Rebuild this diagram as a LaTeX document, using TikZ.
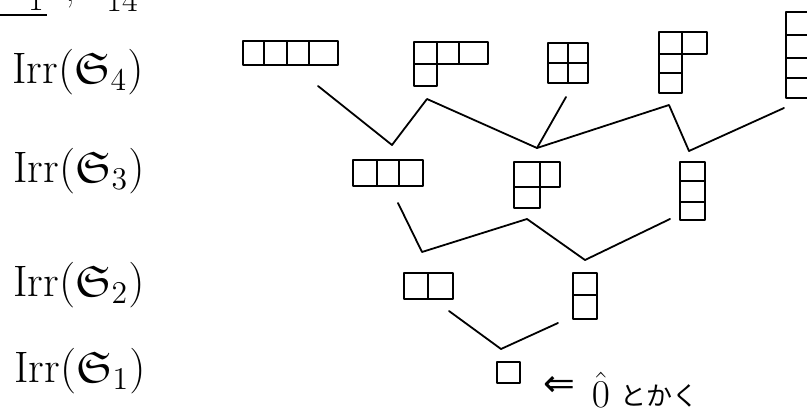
\documentclass[tikz,border=0pt]{standalone}
\usepackage{amssymb}
\usepackage{fontspec}
\newfontfamily\jpfont{Noto Sans CJK JP}
\newfontfamily\symfont{DejaVu Sans}
\begin{document}
\begin{tikzpicture}[x=1pt,y=-1pt,
  cellline/.style={line width=1.6pt,line join=round},
  edge/.style={line width=1.8pt,line join=round,line cap=round},
  lab/.style={inner sep=0pt,anchor=west,font=\fontsize{20}{24}\selectfont,scale=2.2,transform shape},
  hdr/.style={inner sep=0pt,anchor=base,font=\fontsize{20}{24}\selectfont,scale=1.7,transform shape}]
\useasboundingbox (0,0) rectangle (807,412);
% header fragment (cut off at the top)
\draw[line width=1.2pt] (0,15) -- (47,15);
\node[hdr] (hdrone) at (36,11) {1};
\node[hdr] (hdrcomma) at (70,2) {,};
\node[hdr] (hdrnum) at (122,12) {14};
% level labels
\node[lab] (L4) at (12,72) {Irr$(\mathfrak{S}_4)$};
\node[lab] (L3) at (13,171) {Irr$(\mathfrak{S}_3)$};
\node[lab] (L2) at (13,285) {Irr$(\mathfrak{S}_2)$};
\node[lab] (L1) at (14,371) {Irr$(\mathfrak{S}_1)$};
% Young diagrams, level 4
\begin{scope}[cellline]
\draw (243,41) rectangle (338,65); \draw (264,41)--(264,65) (287,41)--(287,65) (309,41)--(309,65);
\draw (414,42) rectangle (488,64); \draw (437,42)--(437,64) (459,42)--(459,64);
\draw (414,64) rectangle (437,86);
\draw (548,43) rectangle (588,83); \draw (568,43)--(568,83) (548,63)--(588,63);
\draw (659,32) rectangle (707,54); \draw (682,32)--(682,54);
\draw (659,54) rectangle (682,93); \draw (659,73)--(682,73);
\draw (786,12) rectangle (810,98); \draw (786,35)--(810,35) (786,58)--(810,58) (786,78)--(810,78);
% level 3
\draw (353,160) rectangle (423,186); \draw (377,160)--(377,186) (399,160)--(399,186);
\draw (514,162) rectangle (560,187); \draw (540,162)--(540,187);
\draw (514,187) rectangle (540,208);
\draw (680,162) rectangle (705,220); \draw (680,181)--(705,181) (680,202)--(705,202);
% level 2
\draw (404,273) rectangle (453,299); \draw (428,273)--(428,299);
\draw (573,273) rectangle (597,319); \draw (573,295)--(597,295);
% level 1
\draw (497,362) rectangle (520,383);
\end{scope}
% connection points
\coordinate (b4) at (318,86);
\coordinate (b31) at (427,99);
\coordinate (b22) at (566,97);
\coordinate (b211) at (669,105);
\coordinate (b1111) at (784,108);
\coordinate (t3) at (392,145);
\coordinate (t21) at (537,148);
\coordinate (t111) at (689,151);
\coordinate (b3) at (398,203);
\coordinate (b21) at (527,219);
\coordinate (b111) at (670,219);
\coordinate (t2) at (422,252);
\coordinate (t11) at (585,260);
\coordinate (b2) at (449,311);
\coordinate (b11) at (558,323);
\coordinate (t1) at (501,349);
% connectors
\draw[edge] (b4) -- (t3) -- (b31) -- (t21) -- (b211) -- (t111) -- (b1111);
\draw[edge] (b22) -- (t21);
\draw[edge] (b3) -- (t2) -- (b21) -- (t11) -- (b111);
\draw[edge] (b2) -- (t1) -- (b11);
% annotation
\node[inner sep=0pt,font=\symfont\fontsize{38}{40}\selectfont] (arr) at (559,386) {⇐};
\node[inner sep=0pt,font=\fontsize{20}{24}\selectfont,scale=1.9,transform shape] (zero) at (601,390) {$\hat{0}$};
\node[inner sep=0pt,anchor=west,font=\jpfont\fontsize{26}{28}\selectfont] (tokaku) at (620,396) {とかく};
\end{tikzpicture}
\end{document}
